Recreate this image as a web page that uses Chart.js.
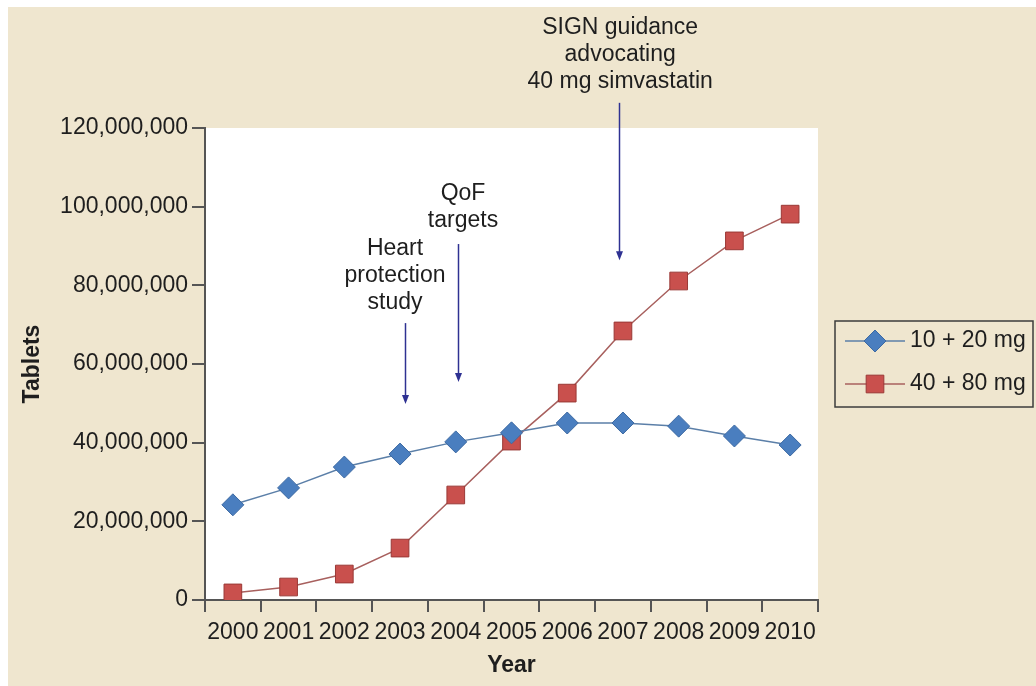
<!DOCTYPE html>
<html>
<head>
<meta charset="utf-8">
<script src="https://cdn.jsdelivr.net/npm/chart.js@4.4.0/dist/chart.umd.min.js"></script>
<style>
  html, body { margin: 0; background: #fff; }
  #wrap { position: absolute; left: 8px; top: 7px; width: 1028px; height: 679px; background: #efe6cf; }
</style>
</head>
<body>
<div id="wrap"><canvas id="plot" width="1028" height="679"></canvas></div>
<script>
// tablets per year
var years = ["2000", "2001", "2002", "2003", "2004", "2005", "2006", "2007", "2008", "2009", "2010"];
var dose10_20 = [24.2e6, 28.5e6, 33.8e6, 37.1e6, 40.2e6, 42.5e6, 45.0e6, 45.0e6, 44.2e6, 41.7e6, 39.4e6];
var dose40_80 = [1.8e6, 3.3e6, 6.6e6, 13.2e6, 26.7e6, 40.4e6, 52.6e6, 68.4e6, 81.1e6, 91.3e6, 98.1e6];
var seriesNames = ["10 + 20 mg", "40 + 80 mg"];

// event notes (x in category index, y in tablets)
var notes = [
  { text: ["Heart", "protection", "study"], tx: 2.91, ty: [89.2e6, 82.4e6, 75.5e6], ax: 3.09, from: 70.4e6, to: 49.8e6 },
  { text: ["QoF", "targets"], tx: 4.13, ty: [103.2e6, 96.4e6], ax: 4.04, from: 90.5e6, to: 55.4e6 },
  { text: ["SIGN guidance", "advocating", "40 mg simvastatin"], tx: 6.95, ty: [145.4e6, 138.6e6, 131.7e6], ax: 6.93, from: 126.4e6, to: 86.4e6 }
];

var FONT = "'Liberation Sans', Arial, Helvetica, sans-serif";
var SIZE = 23;

var whiteArea = {
  id: "whiteArea",
  beforeDraw: function (chart) {
    var a = chart.chartArea, ctx = chart.ctx;
    ctx.save();
    ctx.fillStyle = "#fff";
    ctx.fillRect(a.left, a.top, a.right - a.left, a.bottom - a.top);
    ctx.restore();
  }
};

var notesPlugin = {
  id: "notes",
  afterDraw: function (chart) {
    var ctx = chart.ctx, xs = chart.scales.x, ys = chart.scales.y;
    ctx.save();
    ctx.font = SIZE + "px " + FONT;
    ctx.textAlign = "center";
    ctx.textBaseline = "middle";
    notes.forEach(function (n) {
      ctx.fillStyle = "#1e1e1e";
      var px = xs.getPixelForValue(n.tx);
      n.text.forEach(function (t, i) {
        ctx.fillText(t, px, ys.getPixelForValue(n.ty[i]));
      });
      var ax = Math.round(xs.getPixelForValue(n.ax)) + 0.5;
      var y0 = ys.getPixelForValue(n.from), y1 = ys.getPixelForValue(n.to);
      ctx.strokeStyle = "#2e3192";
      ctx.fillStyle = "#2e3192";
      ctx.lineWidth = 1.5;
      ctx.beginPath();
      ctx.moveTo(ax, y0);
      ctx.lineTo(ax, y1 - 6);
      ctx.stroke();
      ctx.beginPath();
      ctx.moveTo(ax - 3.5, y1 - 9);
      ctx.lineTo(ax + 3.5, y1 - 9);
      ctx.lineTo(ax, y1);
      ctx.closePath();
      ctx.fill();
    });
    ctx.restore();
  }
};

var boxLegend = {
  id: "boxLegend",
  afterDraw: function (chart) {
    var ctx = chart.ctx;
    var x = 827, y = 314, w = 198, h = 86;
    ctx.save();
    ctx.strokeStyle = "#3c3c3c";
    ctx.lineWidth = 1.5;
    ctx.strokeRect(x, y, w, h);
    chart.data.datasets.forEach(function (ds, i) {
      var cy = y + 20 + i * 43, cx = x + 40;
      ctx.strokeStyle = ds.borderColor;
      ctx.lineWidth = ds.borderWidth;
      ctx.beginPath();
      ctx.moveTo(x + 10, cy);
      ctx.lineTo(x + 70, cy);
      ctx.stroke();
      ctx.fillStyle = ds.pointBackgroundColor;
      ctx.strokeStyle = ds.pointBorderColor;
      ctx.lineWidth = 1;
      var r = ds.pointRadius;
      ctx.beginPath();
      if (ds.pointStyle === "rectRot") {
        ctx.moveTo(cx, cy - r);
        ctx.lineTo(cx + r, cy);
        ctx.lineTo(cx, cy + r);
        ctx.lineTo(cx - r, cy);
        ctx.closePath();
      } else {
        var s = r * Math.SQRT1_2;
        ctx.rect(cx - s, cy - s, 2 * s, 2 * s);
      }
      ctx.fill();
      ctx.stroke();
      ctx.fillStyle = "#1e1e1e";
      ctx.font = SIZE + "px " + FONT;
      ctx.textAlign = "left";
      ctx.textBaseline = "middle";
      ctx.fillText(ds.label, x + 75, cy);
    });
    ctx.restore();
  }
};

new Chart("plot", {
  type: "line",
  data: {
    labels: years,
    datasets: [
      {
        label: seriesNames[0],
        data: dose10_20,
        borderColor: "#5b7fa8",
        borderWidth: 1.5,
        pointStyle: "rectRot",
        pointRadius: 11,
        pointBackgroundColor: "#4a7ebf",
        pointBorderColor: "#3d6aa3",
        pointBorderWidth: 1
      },
      {
        label: seriesNames[1],
        data: dose40_80,
        borderColor: "#a8605e",
        borderWidth: 1.5,
        pointStyle: "rect",
        pointRadius: 12.5,
        pointBackgroundColor: "#c9504d",
        pointBorderColor: "#9a3936",
        pointBorderWidth: 1
      }
    ]
  },
  options: {
    responsive: false,
    animation: false,
    layout: { padding: { left: 0, top: 121, right: 218, bottom: 0 } },
    plugins: { legend: { display: false }, tooltip: { enabled: false } },
    scales: {
      x: {
        offset: true,
        grid: { offset: true, drawOnChartArea: false, drawTicks: true, tickLength: 12, color: "#555", lineWidth: 2 },
        border: { display: true, color: "#555", width: 2 },
        ticks: { color: "#1e1e1e", font: { family: FONT, size: SIZE }, padding: 7, maxRotation: 0, autoSkip: false },
        title: { display: true, text: "Year", color: "#1e1e1e", font: { family: FONT, size: SIZE, weight: "bold" }, padding: { top: 0, bottom: 7 } },
        afterFit: function (s) { s.height = 86; }
      },
      y: {
        min: 0,
        max: 120e6,
        ticks: {
          stepSize: 20e6,
          color: "#1e1e1e",
          font: { family: FONT, size: SIZE },
          padding: 4,
          callback: function (v) { return Number(v).toLocaleString("en-US"); }
        },
        grid: { drawOnChartArea: false, drawTicks: true, tickLength: 13, color: "#555", lineWidth: 2 },
        border: { display: true, color: "#555", width: 2 },
        title: { display: true, text: "Tablets", color: "#1e1e1e", font: { family: FONT, size: SIZE, weight: "bold" }, padding: { top: 11, bottom: 0 } },
        afterFit: function (s) { s.width = 197; }
      }
    }
  },
  plugins: [whiteArea, notesPlugin, boxLegend]
});
</script>
</body>
</html>
